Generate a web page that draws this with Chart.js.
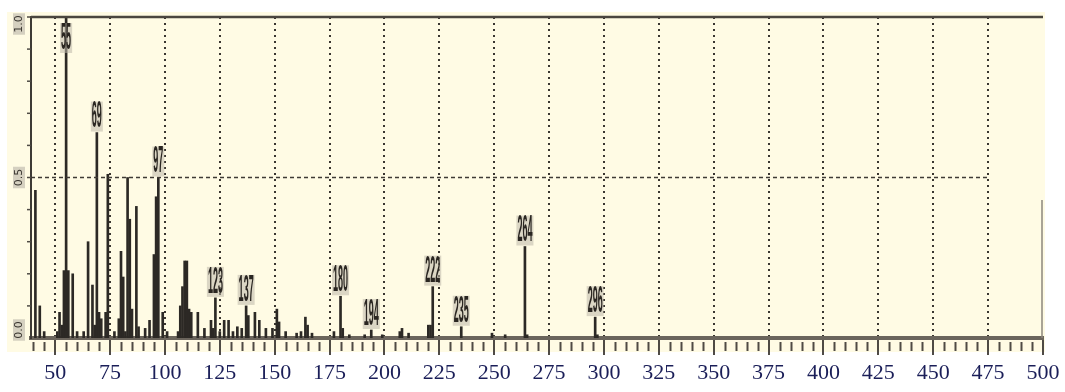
<!DOCTYPE html>
<html>
<head>
<meta charset="utf-8">
<script src="https://cdn.jsdelivr.net/npm/chart.js@4.4.0/dist/chart.umd.min.js"></script>
<style>
  html, body { margin: 0; padding: 0; background: #fff; }
  #wrap { width: 1065px; height: 392px; }
</style>
</head>
<body>
<div id="wrap"><canvas id="spectrum" width="1065" height="392"></canvas></div>
<script>
// m/z of each peak and its relative intensity (base peak = 1.0)
const mz = [41, 43, 45, 51, 52, 53, 54, 55, 56, 58, 60, 63, 65, 67, 68, 69, 70, 71, 73, 74,
  77, 79, 80, 81, 82, 83, 84, 85, 87, 88, 91, 93, 95, 96, 97, 99, 101, 106, 107, 108,
  109, 110, 111, 112, 115, 118, 121, 122, 123, 125, 127, 129, 131, 133, 135, 137, 138, 141, 143, 146,
  149, 151, 152, 155, 160, 162, 164, 165, 167, 177, 180, 181, 184, 191, 194, 199, 207, 208, 211, 220,
  221, 222, 235, 249, 255, 264, 265, 296, 297];
const intensity = [0.46, 0.10, 0.02, 0.02, 0.08, 0.04, 0.21, 1.00, 0.21, 0.20, 0.02, 0.02, 0.30, 0.165, 0.04, 0.64, 0.08, 0.06, 0.08, 0.51,
  0.02, 0.06, 0.27, 0.19, 0.02, 0.50, 0.37, 0.09, 0.41, 0.035, 0.03, 0.055, 0.26, 0.44, 0.50, 0.08, 0.02, 0.02, 0.10, 0.16,
  0.24, 0.24, 0.09, 0.08, 0.08, 0.03, 0.055, 0.03, 0.125, 0.02, 0.055, 0.055, 0.02, 0.035, 0.03, 0.10, 0.07, 0.08, 0.055, 0.03,
  0.03, 0.09, 0.05, 0.02, 0.015, 0.02, 0.065, 0.04, 0.015, 0.02, 0.13, 0.03, 0.01, 0.01, 0.025, 0.01, 0.02, 0.03, 0.015, 0.04,
  0.04, 0.16, 0.035, 0.015, 0.01, 0.285, 0.01, 0.065, 0.01];
// peaks annotated with their m/z
const peakLabels = [55, 69, 97, 123, 137, 180, 194, 222, 235, 264, 296];
const xTicks = [50, 75, 100, 125, 150, 175, 200, 225, 250, 275, 300, 325, 350, 375, 400, 425, 450, 475, 500];
const yTicks = [0, 0.5, 1];
const yTickText = ['0.0', '0.5', '1.0'];

const INK = '#4f4b45';

const paperPlugin = {
  id: 'paper',
  beforeDraw(chart) {
    const { ctx, chartArea: a } = chart;
    ctx.save();
    ctx.fillStyle = '#fffbe4';
    ctx.fillRect(a.left - 24, a.top - 5, a.right - a.left + 26, a.bottom - a.top + 19);
    ctx.restore();
  }
};

const decorPlugin = {
  id: 'decor',
  afterDraw(chart) {
    const { ctx, chartArea: a, scales: { x, y } } = chart;
    ctx.save();

    // dashed half-height line
    ctx.strokeStyle = '#3f3b35';
    ctx.lineWidth = 1.5;
    ctx.setLineDash([4, 3]);
    ctx.beginPath();
    ctx.moveTo(a.left, y.getPixelForValue(0.5));
    ctx.lineTo(x.getPixelForValue(475), y.getPixelForValue(0.5));
    ctx.stroke();
    ctx.setLineDash([]);

    // top frame
    ctx.strokeStyle = '#4a463f';
    ctx.lineWidth = 2.5;
    ctx.beginPath();
    ctx.moveTo(a.left, a.top);
    ctx.lineTo(a.right, a.top);
    ctx.stroke();

    // short right edge
    ctx.strokeStyle = '#8d877d';
    ctx.lineWidth = 1.5;
    ctx.beginPath();
    ctx.moveTo(x.getPixelForValue(500) - 1, y.getPixelForValue(0.43));
    ctx.lineTo(x.getPixelForValue(500) - 1, a.bottom);
    ctx.stroke();

    // minor ticks under the m/z axis
    ctx.strokeStyle = INK;
    ctx.lineWidth = 2;
    for (let v = 40; v < 500; v += 5) {
      if (v % 25 === 0) continue;
      const px = Math.round(x.getPixelForValue(v)) + 0.5;
      ctx.beginPath();
      ctx.moveTo(px, a.bottom + 4);
      ctx.lineTo(px, a.bottom + 13);
      ctx.stroke();
    }

    // minor ticks on the intensity axis
    ctx.lineWidth = 1.5;
    for (let v = 0.1; v < 1; v += 0.1) {
      const py = y.getPixelForValue(v);
      ctx.beginPath();
      ctx.moveTo(a.left - 4, py);
      ctx.lineTo(a.left, py);
      ctx.stroke();
    }

    // rotated intensity labels
    ctx.font = '11px "DejaVu Sans"';
    ctx.textAlign = 'center';
    ctx.textBaseline = 'middle';
    yTicks.forEach((v, i) => {
      const cy = Math.min(Math.max(y.getPixelForValue(v), a.top + 7), a.bottom - 8);
      ctx.save();
      ctx.translate(19, cy);
      ctx.rotate(-Math.PI / 2);
      const w = ctx.measureText(yTickText[i]).width;
      ctx.fillStyle = 'rgba(185,180,168,0.6)';
      ctx.fillRect(-w / 2 - 2, -6, w + 4, 12);
      ctx.fillStyle = '#38342e';
      ctx.fillText(yTickText[i], 0, 0);
      ctx.restore();
    });

    // condensed m/z labels above the annotated peaks
    const sx = 0.25, h = 30;
    ctx.font = 'bold 36px "Liberation Sans"';
    peakLabels.forEach(m => {
      const i = mz.indexOf(m);
      const px = x.getPixelForValue(m);
      const py = y.getPixelForValue(intensity[i]);
      const txt = String(m);
      const w = ctx.measureText(txt).width * sx;
      let top = py - h - 1;
      if (top < a.top + 6) top = a.top + 6;
      ctx.fillStyle = 'rgba(190,184,170,0.55)';
      ctx.fillRect(px - w / 2 - 1, top, w + 2, h);
      ctx.save();
      ctx.translate(px, top + h / 2 + 1);
      ctx.scale(sx, 1);
      ctx.fillStyle = '#2a2621';
      ctx.fillText(txt, 0, 0);
      ctx.restore();
    });

    ctx.restore();
  }
};

new Chart(document.getElementById('spectrum'), {
  type: 'bar',
  data: {
    datasets: [{
      data: mz.map((m, i) => ({ x: m, y: intensity[i] })),
      backgroundColor: '#2c2925',
      barThickness: 2
    }]
  },
  options: {
    responsive: false,
    animation: false,
    layout: { padding: { top: 17, right: 22, left: 0, bottom: 0 } },
    plugins: { legend: { display: false }, tooltip: { enabled: false } },
    scales: {
      x: {
        type: 'linear',
        min: 39,
        max: 500,
        offset: false,
        afterBuildTicks: s => { s.ticks = xTicks.map(v => ({ value: v })); },
        afterFit: s => { s.height = 54; },
        grid: {
          offset: false,
          color: c => (c.tick && c.tick.value === 500) ? 'rgba(0,0,0,0)' : '#3a3630',
          lineWidth: 2,
          drawTicks: true,
          tickLength: 17,
          tickColor: INK,
          tickWidth: 2,
          tickBorderDash: []
        },
        border: { display: true, color: '#6b655c', width: 4, dash: [2, 4] },
        ticks: {
          font: { family: 'Liberation Serif', size: 22 },
          color: '#1a1e58',
          padding: 5,
          maxRotation: 0,
          autoSkip: false
        }
      },
      y: {
        min: 0,
        max: 1,
        afterFit: s => { s.width = 31; },
        ticks: { display: false },
        grid: { display: false },
        border: { display: true, color: '#3d3a35', width: 2 }
      }
    }
  },
  plugins: [paperPlugin, decorPlugin]
});
</script>
</body>
</html>
